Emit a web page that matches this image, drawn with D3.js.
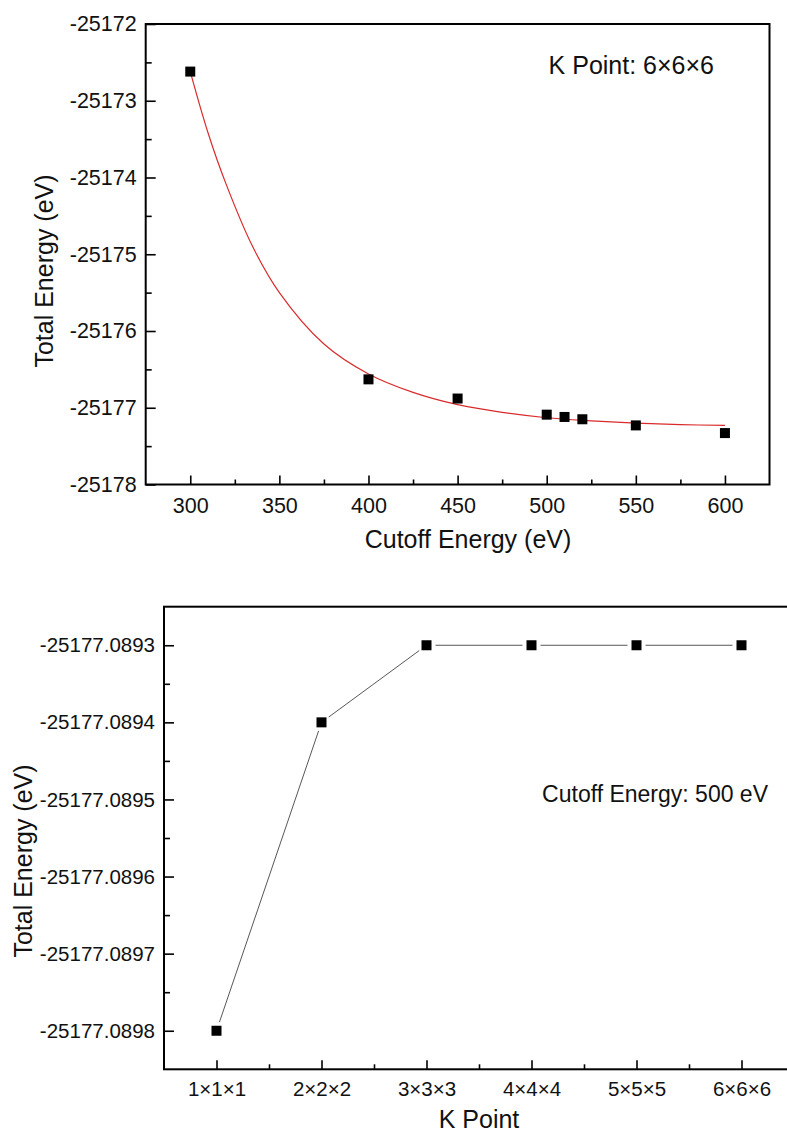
<!DOCTYPE html>
<html>
<head>
<meta charset="utf-8">
<script src="https://cdn.jsdelivr.net/npm/d3@7"></script>
<style>
  body { margin: 0; background: #fff; }
  svg { display: block; font-family: "Liberation Sans", Arial, sans-serif; }
  .tick text { font-size: 20.5px; fill: #111; }
  .tick line { stroke: #000; stroke-width: 1.6; }
  .top-panel .tick text { font-size: 21.5px; }
</style>
</head>
<body>
<svg id="chart" width="787" height="1133"></svg>
<script>
// top panel: cutoff energy convergence
const cutoffValues = [300, 400, 450, 500, 510, 520, 550, 600];
const cutoffEnergies = [-25172.62, -25176.63, -25176.88, -25177.09, -25177.12, -25177.15, -25177.23, -25177.33];
// red fit curve
const fitCutoff = [300, 310, 320, 335, 350, 375, 400, 425, 450, 475, 500, 525, 550, 575, 600];
const fitEnergy = [-25172.62, -25173.42, -25174.08, -25174.90, -25175.50, -25176.17, -25176.56, -25176.80,
                   -25176.96, -25177.06, -25177.13, -25177.17, -25177.20, -25177.22, -25177.23];
const topXTicks = [300, 350, 400, 450, 500, 550, 600];
const topXMinor = [325, 375, 425, 475, 525, 575];
const topYTicks = [-25172, -25173, -25174, -25175, -25176, -25177, -25178];
const topYMinor = [-25172.5, -25173.5, -25174.5, -25175.5, -25176.5, -25177.5];

// bottom panel: k point convergence
const kPoints = ["1×1×1", "2×2×2", "3×3×3", "4×4×4", "5×5×5", "6×6×6"];
const kEnergies = [-25177.0898, -25177.0894, -25177.0893, -25177.0893, -25177.0893, -25177.0893];
const botYTicks = [-25177.0893, -25177.0894, -25177.0895, -25177.0896, -25177.0897, -25177.0898];
const botYMinor = [-25177.08935, -25177.08945, -25177.08955, -25177.08965, -25177.08975];

const svg = d3.select("#chart");
const markerSize = 10;

function drawAxes(g, x, y, w, h, o) {
  // major + minor ticks pointing inward
  g.append("g").attr("transform", `translate(0,${h})`)
    .call(d3.axisBottom(x).tickValues(o.xTicks).tickSize(-9).tickPadding(o.xPad).tickFormat(o.xFormat));
  g.append("g").attr("transform", `translate(0,${h})`)
    .call(d3.axisBottom(x).tickValues(o.xMinor).tickSize(-5).tickFormat(""));
  g.append("g")
    .call(d3.axisLeft(y).tickValues(o.yTicks).tickSize(-10).tickPadding(9).tickFormat(o.yFormat));
  g.append("g")
    .call(d3.axisLeft(y).tickValues(o.yMinor).tickSize(-6).tickFormat(""));
  g.selectAll(".domain").remove();
  g.append("rect").attr("width", w).attr("height", h)
    .attr("fill", "none").attr("stroke", "#000").attr("stroke-width", 2);
}

// ---------- top chart ----------
{
  const left = 145.7, top = 24, w = 769.5 - 145.7, h = 484.5 - 24;
  const g = svg.append("g").attr("class", "top-panel").attr("transform", `translate(${left},${top})`);
  const x = d3.scaleLinear().domain([275, 625]).range([0, w]);
  const y = d3.scaleLinear().domain([-25178, -25172]).range([h, 0]);

  drawAxes(g, x, y, w, h, {
    xTicks: topXTicks, xMinor: topXMinor, xPad: 13.5, xFormat: d => d.toFixed(0),
    yTicks: topYTicks, yMinor: topYMinor, yFormat: d => d.toFixed(0)
  });

  const fit = fitCutoff.map((c, i) => [c, fitEnergy[i]]);
  g.append("path").datum(fit)
    .attr("fill", "none").attr("stroke", "#d92b2b").attr("stroke-width", 1.2)
    .attr("d", d3.line().x(d => x(d[0])).y(d => y(d[1])).curve(d3.curveCatmullRom));

  g.selectAll("rect.pt").data(cutoffValues).join("rect").attr("class", "pt")
    .attr("x", (d, i) => x(d) - markerSize / 2)
    .attr("y", (d, i) => y(cutoffEnergies[i]) - markerSize / 2)
    .attr("width", markerSize).attr("height", markerSize).attr("fill", "#000");

  svg.append("text").attr("x", 468).attr("y", 548).attr("text-anchor", "middle")
    .attr("font-size", 25).attr("fill", "#111").text("Cutoff Energy (eV)");
  svg.append("text").attr("transform", "translate(53,271) rotate(-90)").attr("text-anchor", "middle")
    .attr("font-size", 25).attr("fill", "#111").text("Total Energy (eV)");
  svg.append("text").attr("x", 714).attr("y", 74).attr("text-anchor", "end")
    .attr("font-size", 25).attr("fill", "#111").text("K Point: 6×6×6");
}

// ---------- bottom chart ----------
{
  const left = 164, top = 606.7;
  const x = d3.scaleLinear().domain([0.5, 6.5]).range([0, 630]);
  const h = 1069.3 - 606.7, w = 630;
  const g = svg.append("g").attr("transform", `translate(${left},${top})`);
  const y = d3.scaleLinear().domain([-25177.08985, -25177.08925]).range([h, 0]);

  drawAxes(g, x, y, w, h, {
    xTicks: d3.range(1, kPoints.length + 1), xMinor: [1.5, 2.5, 3.5, 4.5, 5.5], xPad: 12.5,
    xFormat: d => kPoints[d - 1],
    yTicks: botYTicks, yMinor: botYMinor, yFormat: d => d.toFixed(4)
  });

  // line segments with a small gap around each symbol
  const pts = kEnergies.map((e, i) => [x(i + 1), y(e)]);
  const gap = 9;
  const segs = d3.pairs(pts).map(([a, b]) => {
    const dx = b[0] - a[0], dy = b[1] - a[1], len = Math.hypot(dx, dy);
    const ux = dx / len, uy = dy / len;
    return [a[0] + ux * gap, a[1] + uy * gap, b[0] - ux * gap, b[1] - uy * gap];
  });
  g.selectAll("line.seg").data(segs).join("line").attr("class", "seg")
    .attr("x1", d => d[0]).attr("y1", d => d[1]).attr("x2", d => d[2]).attr("y2", d => d[3])
    .attr("stroke", "#444").attr("stroke-width", 0.9);

  g.selectAll("rect.pt").data(pts).join("rect").attr("class", "pt")
    .attr("x", d => d[0] - markerSize / 2).attr("y", d => d[1] - markerSize / 2)
    .attr("width", markerSize).attr("height", markerSize).attr("fill", "#000");

  svg.append("text").attr("x", 479).attr("y", 1128).attr("text-anchor", "middle")
    .attr("font-size", 25).attr("fill", "#111").text("K Point");
  svg.append("text").attr("transform", "translate(32,861) rotate(-90)").attr("text-anchor", "middle")
    .attr("font-size", 25).attr("fill", "#111").text("Total Energy (eV)");
  svg.append("text").attr("x", 768).attr("y", 802).attr("text-anchor", "end")
    .attr("font-size", 23).attr("fill", "#111").text("Cutoff Energy: 500 eV");
}
</script>
</body>
</html>
